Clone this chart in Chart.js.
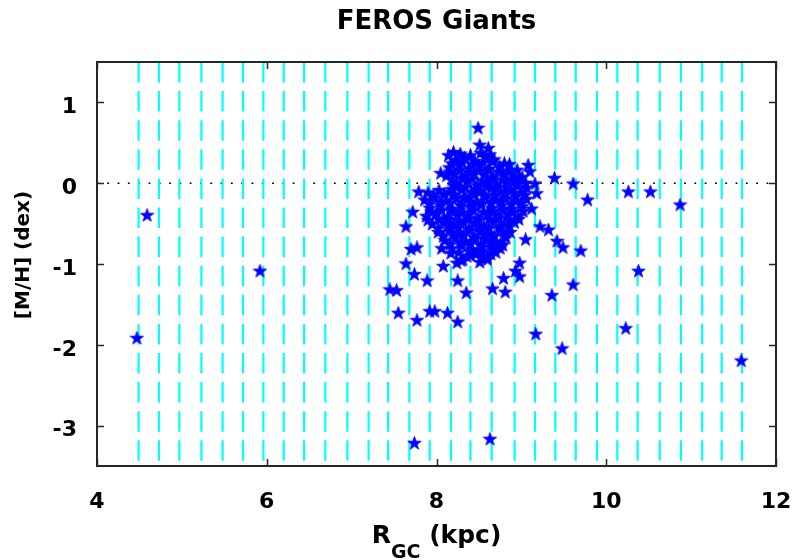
<!DOCTYPE html>
<html>
<head>
<meta charset="utf-8">
<title>FEROS Giants</title>
<script src="https://cdn.jsdelivr.net/npm/chart.js@4.4.0/dist/chart.umd.min.js"></script>
<style>
  html, body { margin: 0; padding: 0; background: #fff; }
  #wrap { width: 794px; height: 560px; }
</style>
</head>
<body>
<div id="wrap"><canvas id="feros" width="794" height="560"></canvas></div>
<script>
// Galactocentric radius vs metallicity for the FEROS giant sample

const xTicks = [4, 6, 8, 10, 12];
const yTicks = [-3, -2, -1, 0, 1];
const xRange = [4, 12];
const yRange = [-3.5, 1.5];

// cyan dashed verticals (bin edges in kpc)
const binEdges = [4.49, 4.73, 4.97, 5.23, 5.48, 5.72, 5.96, 6.20, 6.44, 6.69,
                  6.95, 7.20, 7.43, 7.68, 7.92, 8.17, 8.40, 8.65, 8.92, 9.16,
                  9.40, 9.64, 9.89, 10.13, 10.37, 10.63, 10.88, 11.13, 11.36, 11.60];

// solar reference level
const solarLevel = 0;

// R_GC (kpc)
const rGC = [
  // outliers / halo of the distribution
  4.47, 4.59, 5.92, 7.45, 7.53, 7.74, 8.63, 10.38, 10.23, 9.48,
  9.17, 11.59, 9.61, 9.36, 7.55, 7.77, 7.92, 7.98, 8.13, 8.25,
  7.89, 7.74, 7.64, 8.08, 8.24, 8.25, 8.35, 8.66, 8.79, 8.81,
  8.93, 8.98, 8.98, 7.70, 9.49, 9.70, 8.49, 8.51, 8.61, 8.20,
  8.14, 8.05, 9.08, 9.10, 9.39, 9.61, 9.78, 10.26, 10.52, 10.87,
  9.16, 9.18, 9.12, 7.79, 7.72, 7.64, 7.77, 9.22, 9.32, 9.42,
  9.05, 8.06, 8.75, 8.60, 8.31, 8.51, 8.17, 8.29, 8.40, 8.53,
  8.64, 8.70,
  // dense core
  8.22, 8.33, 8.45, 8.57, 8.68,
  8.15, 8.27, 8.38, 8.50, 8.62, 8.74, 8.86,
  8.12, 8.21, 8.33, 8.44, 8.56, 8.67, 8.79, 8.90, 8.98,
  8.24, 8.36, 8.48, 8.60, 8.71, 8.83, 8.95, 9.05,
  7.90, 8.03, 8.16, 8.29, 8.41, 8.52, 8.64, 8.76, 8.88, 9.00,
  7.86, 7.98, 8.11, 8.23, 8.35, 8.47, 8.58, 8.70, 8.82, 8.94, 9.06,
  7.92, 8.05, 8.18, 8.30, 8.42, 8.53, 8.65, 8.77, 8.89, 9.01,
  7.88, 8.00, 8.13, 8.25, 8.37, 8.49, 8.61, 8.72, 8.84, 8.96,
  7.95, 8.08, 8.20, 8.32, 8.44, 8.56, 8.68, 8.80, 8.92,
  8.02, 8.15, 8.27, 8.39, 8.51, 8.63, 8.75, 8.87,
  8.10, 8.22, 8.34, 8.46, 8.58, 8.70, 8.82,
  8.18, 8.30, 8.42, 8.54, 8.66, 8.78,
  8.36, 8.47, 8.60,
  // core, in-between stars
  8.28, 8.40, 8.52, 8.63,
  8.18, 8.30, 8.42, 8.55, 8.66, 8.80,
  8.16, 8.27, 8.39, 8.50, 8.61, 8.73, 8.85, 8.95,
  8.18, 8.30, 8.42, 8.54, 8.65, 8.77, 8.89, 9.01,
  8.18, 8.22, 8.34, 8.46, 8.58, 8.70, 8.82, 8.94, 9.06,
  7.96, 8.09, 8.21, 8.33, 8.45, 8.57, 8.69, 8.81, 8.93, 9.04,
  7.92, 8.04, 8.16, 8.28, 8.40, 8.52, 8.64, 8.76, 8.88, 9.00,
  7.94, 8.06, 8.18, 8.30, 8.43, 8.55, 8.67, 8.78, 8.90, 9.02,
  7.90, 8.02, 8.14, 8.26, 8.38, 8.50, 8.62, 8.74, 8.86, 8.97,
  8.02, 8.14, 8.26, 8.38, 8.50, 8.62, 8.74, 8.86,
  8.08, 8.20, 8.32, 8.44, 8.56, 8.68, 8.80,
  8.16, 8.28, 8.40, 8.52, 8.64, 8.75,
  8.26, 8.40, 8.54, 8.66
];

// [M/H] (dex)
const metal = [
  -1.92, -0.40, -1.09, -1.32, -1.33, -3.22, -3.17, -1.09, -1.80, -2.05,
  -1.87, -2.20, -1.26, -1.39, -1.61, -1.70, -1.59, -1.59, -1.61, -1.72,
  -1.21, -1.13, -1.00, -1.03, -0.99, -1.21, -1.36, -1.31, -1.18, -1.35,
  -1.09, -0.99, -1.16, -0.82, -0.80, -0.84, 0.68, 0.47, 0.43, 0.38,
  0.34, 0.12, 0.22, 0.14, 0.06, -0.01, -0.21, -0.11, -0.11, -0.27,
  -0.01, -0.13, -0.32, -0.11, -0.36, -0.54, -0.80, -0.54, -0.58, -0.72,
  -0.70, -0.81, -0.81, -0.95, -0.95, -0.98, -0.87, -0.96, -0.90, -0.93,
  -0.88, -0.86,
  0.28, 0.31, 0.27, 0.32, 0.29,
  0.19, 0.22, 0.18, 0.21, 0.17, 0.20, 0.23,
  0.09, 0.11, 0.08, 0.12, 0.10, 0.07, 0.11, 0.09, 0.06,
  -0.01, 0.02, -0.03, 0.01, -0.02, 0.03, -0.01, 0.00,
  -0.12, -0.09, -0.11, -0.08, -0.12, -0.10, -0.07, -0.11, -0.09, -0.12,
  -0.21, -0.18, -0.22, -0.19, -0.20, -0.23, -0.18, -0.21, -0.19, -0.22, -0.20,
  -0.31, -0.28, -0.32, -0.29, -0.30, -0.27, -0.31, -0.28, -0.32, -0.29,
  -0.41, -0.38, -0.42, -0.39, -0.40, -0.43, -0.38, -0.41, -0.39, -0.42,
  -0.51, -0.48, -0.52, -0.49, -0.50, -0.53, -0.48, -0.51, -0.49,
  -0.61, -0.58, -0.62, -0.59, -0.60, -0.63, -0.58, -0.61,
  -0.71, -0.68, -0.72, -0.69, -0.70, -0.73, -0.68,
  -0.81, -0.78, -0.82, -0.79, -0.80, -0.77,
  -0.91, -0.88, -0.92,
  0.36, 0.34, 0.37, 0.35,
  0.24, 0.26, 0.23, 0.25, 0.27, 0.24,
  0.14, 0.16, 0.13, 0.15, 0.17, 0.14, 0.15, 0.16,
  0.04, 0.06, 0.05, 0.03, 0.06, 0.04, 0.05, 0.07,
  -0.08, -0.04, -0.05, -0.07, -0.04, -0.06, -0.05, -0.03, -0.06,
  -0.16, -0.14, -0.15, -0.17, -0.14, -0.16, -0.15, -0.13, -0.16, -0.15,
  -0.26, -0.24, -0.25, -0.27, -0.24, -0.26, -0.25, -0.23, -0.26, -0.25,
  -0.36, -0.34, -0.35, -0.37, -0.34, -0.36, -0.35, -0.33, -0.36, -0.35,
  -0.46, -0.44, -0.45, -0.47, -0.44, -0.46, -0.45, -0.43, -0.46, -0.45,
  -0.56, -0.54, -0.55, -0.57, -0.54, -0.56, -0.55, -0.53,
  -0.66, -0.64, -0.65, -0.67, -0.64, -0.66, -0.65,
  -0.76, -0.74, -0.75, -0.77, -0.74, -0.76,
  -0.86, -0.84, -0.85, -0.83
];

const FONT = "'DejaVu Sans', 'Liberation Sans', sans-serif";

// filled five-pointed star used as the marker
function makeStar(size, color) {
  const c = document.createElement('canvas');
  c.width = size;
  c.height = size;
  const g = c.getContext('2d');
  const cx = size / 2, cy = size / 2;
  const outer = size / 2 - 0.4, inner = outer * 0.4;
  g.beginPath();
  for (let i = 0; i < 10; i++) {
    const r = i % 2 === 0 ? outer : inner;
    const a = -Math.PI / 2 + i * Math.PI / 5;
    const px = cx + r * Math.cos(a), py = cy + r * Math.sin(a);
    if (i === 0) g.moveTo(px, py); else g.lineTo(px, py);
  }
  g.closePath();
  g.fillStyle = color;
  g.fill();
  g.strokeStyle = color;
  g.lineWidth = 0.8;
  g.stroke();
  return c;
}

const starMark = makeStar(15, '#0000ff');

// box, inward ticks and the axis titles (the x title needs a subscript)
const frameAndTitles = {
  id: 'frameAndTitles',
  afterDraw(chart) {
    const { ctx, chartArea: a, scales: { x, y } } = chart;
    ctx.save();

    ctx.strokeStyle = '#262626';
    ctx.lineWidth = 2;
    ctx.strokeRect(a.left, a.top, a.right - a.left, a.bottom - a.top);

    ctx.lineWidth = 1.5;
    ctx.beginPath();
    xTicks.forEach(v => {
      const px = Math.round(x.getPixelForValue(v)) + 0.5;
      ctx.moveTo(px, a.bottom); ctx.lineTo(px, a.bottom - 7);
      ctx.moveTo(px, a.top); ctx.lineTo(px, a.top + 7);
    });
    yTicks.forEach(v => {
      const py = Math.round(y.getPixelForValue(v)) + 0.5;
      ctx.moveTo(a.left, py); ctx.lineTo(a.left + 7, py);
      ctx.moveTo(a.right, py); ctx.lineTo(a.right - 7, py);
    });
    ctx.stroke();

    ctx.fillStyle = '#000';
    ctx.textBaseline = 'alphabetic';

    // x title: R_GC (kpc)
    const big = 'bold 25px ' + FONT, small = 'bold 19px ' + FONT;
    ctx.font = big;
    const wR = ctx.measureText('R').width;
    const wRest = ctx.measureText(' (kpc)').width;
    ctx.font = small;
    const wSub = ctx.measureText('GC').width;
    let tx = (a.left + a.right) / 2 - (wR + wSub + wRest) / 2;
    ctx.textAlign = 'left';
    ctx.font = big;
    ctx.fillText('R', tx, 543);
    ctx.font = small;
    ctx.fillText('GC', tx + wR, 558);
    ctx.font = big;
    ctx.fillText(' (kpc)', tx + wR + wSub, 543);

    // y title
    ctx.translate(29, (a.top + a.bottom) / 2 - 9);
    ctx.rotate(-Math.PI / 2);
    ctx.textAlign = 'center';
    ctx.font = 'bold 20px ' + FONT;
    ctx.fillText('[M/H] (dex)', 0, 0);

    ctx.restore();
  }
};

const datasets = [
  {
    label: 'giants',
    data: rGC.map((r, i) => ({ x: r, y: metal[i] })),
    pointStyle: starMark,
    pointRadius: 7,
    showLine: false,
    order: 0
  },
  ...binEdges.map(e => ({
    type: 'line',
    data: [{ x: e, y: yRange[1] }, { x: e, y: yRange[0] }],
    borderColor: '#00ffff',
    borderWidth: 2.2,
    borderDash: [20.5, 8.6],
    pointRadius: 0,
    fill: false,
    order: 1
  })),
  {
    type: 'line',
    data: [{ x: xRange[0], y: solarLevel }, { x: xRange[1], y: solarLevel }],
    borderColor: '#000000',
    borderWidth: 1.6,
    borderDash: [1.8, 8.5],
    pointRadius: 0,
    fill: false,
    order: 2
  }
];

new Chart(document.getElementById('feros'), {
  type: 'scatter',
  data: { datasets },
  plugins: [frameAndTitles],
  options: {
    responsive: false,
    animation: false,
    events: [],
    layout: { padding: { left: 0, right: 18, top: 0, bottom: 0 } },
    plugins: {
      legend: { display: false },
      tooltip: { enabled: false },
      title: {
        display: true,
        text: 'FEROS Giants',
        fullSize: false,
        color: '#000',
        font: { family: FONT, size: 26, weight: 'bold', lineHeight: 1.2 },
        padding: { top: 6.5, bottom: 24.3 }
      }
    },
    scales: {
      x: {
        type: 'linear',
        min: xRange[0],
        max: xRange[1],
        afterBuildTicks: s => { s.ticks = xTicks.map(v => ({ value: v })); },
        afterFit: s => { s.height = 94; s.paddingLeft = 0; s.paddingRight = 0; },
        grid: { display: false },
        border: { display: false },
        ticks: {
          color: '#000',
          padding: 15,
          maxRotation: 0,
          font: { family: FONT, size: 22, weight: 'bold' }
        }
      },
      y: {
        type: 'linear',
        min: yRange[0],
        max: yRange[1],
        afterBuildTicks: s => { s.ticks = yTicks.map(v => ({ value: v })); },
        afterFit: s => { s.width = 97; s.paddingTop = 0; s.paddingBottom = 0; },
        grid: { display: false },
        border: { display: false },
        ticks: {
          color: '#000',
          padding: 12,
          labelOffset: 5,
          font: { family: FONT, size: 22, weight: 'bold' }
        }
      }
    }
  }
});
</script>
</body>
</html>
